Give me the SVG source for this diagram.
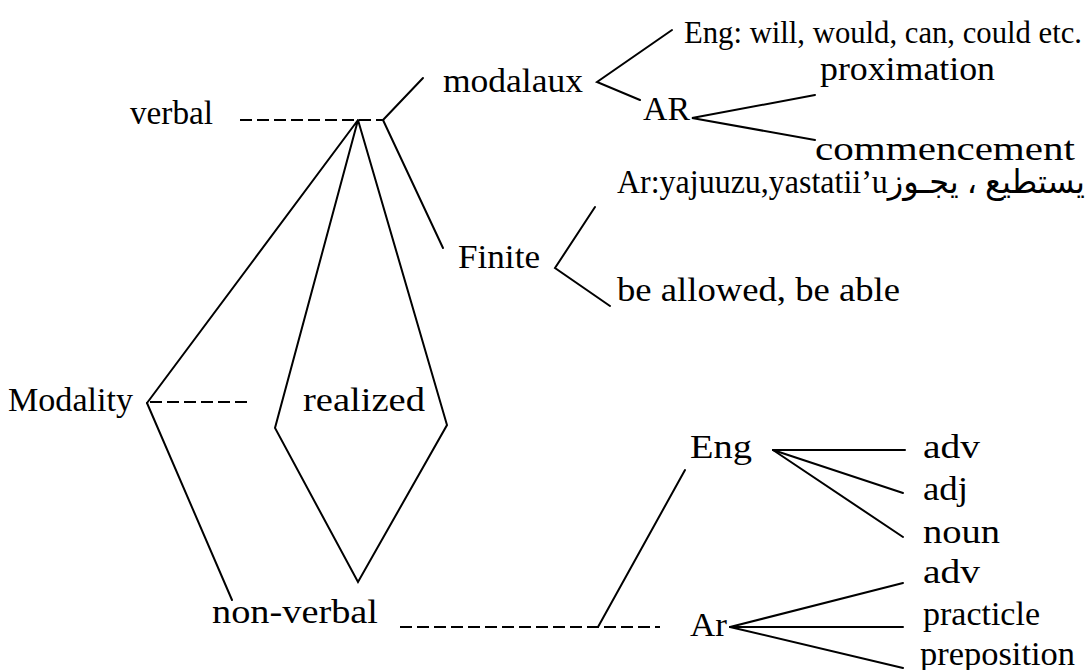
<svg xmlns="http://www.w3.org/2000/svg" width="1090" height="670" viewBox="0 0 1090 670">
<style>
text{font-family:"Liberation Serif","Times New Roman","DejaVu Sans",serif;font-size:33px;fill:#000}
.ln{stroke:#000;stroke-width:2;fill:none;stroke-linecap:round;stroke-linejoin:miter}
.ds{stroke:#000;stroke-width:2;fill:none;stroke-dasharray:12 5}
</style>
<rect width="1090" height="670" fill="#fff"/>
<g id="connectors">
<line class="ds" x1="240" y1="120" x2="382" y2="120"/>
<line class="ln" x1="383" y1="120" x2="423" y2="78"/>
<line class="ln" x1="383" y1="120" x2="443" y2="248"/>
<polyline class="ln" points="147,403 358,120 275,428 358,582 447,425 358,120"/>
<line class="ln" x1="147" y1="403" x2="232" y2="600"/>
<line class="ds" x1="150" y1="402" x2="250" y2="402"/>
<polyline class="ln" points="672,30 597,82 640,100"/>
<polyline class="ln" points="815,95 692,118 815,140"/>
<polyline class="ln" points="595,207 555,268 610,306"/>
<line class="ds" x1="400" y1="627" x2="660" y2="627"/>
<line class="ln" x1="598" y1="627" x2="685" y2="470"/>
<line class="ln" x1="773" y1="450" x2="905" y2="450"/>
<line class="ln" x1="773" y1="450" x2="903" y2="493"/>
<line class="ln" x1="773" y1="450" x2="903" y2="537"/>
<line class="ln" x1="730" y1="627" x2="903" y2="583"/>
<line class="ln" x1="730" y1="627" x2="903" y2="627"/>
<line class="ln" x1="730" y1="627" x2="903" y2="668"/>
</g>
<g id="n-eng-modals"><text x="684" y="43" style="font-size:31px" textLength="398" lengthAdjust="spacingAndGlyphs">Eng: will, would, can, could etc.</text></g>
<g id="n-modalaux"><text x="443" y="92" textLength="140" lengthAdjust="spacingAndGlyphs">modalaux</text></g>
<g id="n-proximation"><text x="820" y="80" textLength="175" lengthAdjust="spacingAndGlyphs">proximation</text></g>
<g id="n-AR"><text x="643" y="120" textLength="47" lengthAdjust="spacingAndGlyphs">AR</text></g>
<g id="n-verbal"><text x="130" y="124" textLength="83" lengthAdjust="spacingAndGlyphs">verbal</text></g>
<g id="n-commencement"><text x="815" y="160" textLength="260" lengthAdjust="spacingAndGlyphs">commencement</text></g>
<g id="n-ar-finite"><text x="617" y="193" textLength="468" lengthAdjust="spacingAndGlyphs">Ar:yajuuzu,yastatii’uيستطيع ، يجـوز</text></g>
<g id="n-finite"><text x="458" y="268" textLength="82" lengthAdjust="spacingAndGlyphs">Finite</text></g>
<g id="n-allowed"><text x="617" y="301" textLength="283" lengthAdjust="spacingAndGlyphs">be allowed, be able</text></g>
<g id="n-modality"><text x="8" y="411" textLength="125" lengthAdjust="spacingAndGlyphs">Modality</text></g>
<g id="n-realized"><text x="303" y="411" textLength="122" lengthAdjust="spacingAndGlyphs">realized</text></g>
<g id="n-eng"><text x="690" y="458" textLength="62" lengthAdjust="spacingAndGlyphs">Eng</text></g>
<g id="n-adv1"><text x="923" y="458" textLength="57" lengthAdjust="spacingAndGlyphs">adv</text></g>
<g id="n-adj"><text x="923" y="500" textLength="45" lengthAdjust="spacingAndGlyphs">adj</text></g>
<g id="n-noun"><text x="923" y="543" textLength="77" lengthAdjust="spacingAndGlyphs">noun</text></g>
<g id="n-adv2"><text x="923" y="583" textLength="57" lengthAdjust="spacingAndGlyphs">adv</text></g>
<g id="n-practicle"><text x="923" y="625" textLength="117" lengthAdjust="spacingAndGlyphs">practicle</text></g>
<g id="n-nonverbal"><text x="212" y="623" textLength="166" lengthAdjust="spacingAndGlyphs">non-verbal</text></g>
<g id="n-ar"><text x="690" y="636" textLength="37" lengthAdjust="spacingAndGlyphs">Ar</text></g>
<g id="n-preposition"><text x="920" y="665" textLength="155" lengthAdjust="spacingAndGlyphs">preposition</text></g>
</svg>
